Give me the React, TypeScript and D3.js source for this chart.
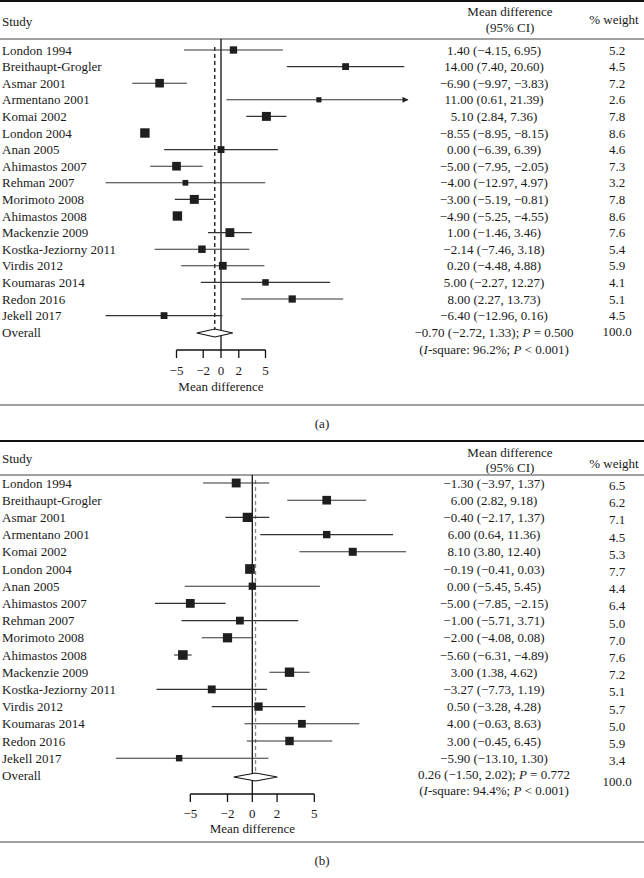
import React from 'react';
import * as d3 from 'd3';

const studies = [
  'London 1994', 'Breithaupt-Grogler', 'Asmar 2001', 'Armentano 2001', 'Komai 2002',
  'London 2004', 'Anan 2005', 'Ahimastos 2007', 'Rehman 2007', 'Morimoto 2008',
  'Ahimastos 2008', 'Mackenzie 2009', 'Kostka-Jeziorny 2011', 'Virdis 2012',
  'Koumaras 2014', 'Redon 2016', 'Jekell 2017',
];

// Panel (a)
const mdA = [1.40, 14.00, -6.90, 11.00, 5.10, -8.55, 0.00, -5.00, -4.00, -3.00, -4.90, 1.00, -2.14, 0.20, 5.00, 8.00, -6.40];
const loA = [-4.15, 7.40, -9.97, 0.61, 2.84, -8.95, -6.39, -7.95, -12.97, -5.19, -5.25, -1.46, -7.46, -4.48, -2.27, 2.27, -12.96];
const hiA = [6.95, 20.60, -3.83, 21.39, 7.36, -8.15, 6.39, -2.05, 4.97, -0.81, -4.55, 3.46, 3.18, 4.88, 12.27, 13.73, 0.16];
const wA = [5.2, 4.5, 7.2, 2.6, 7.8, 8.6, 4.6, 7.3, 3.2, 7.8, 8.6, 7.6, 5.4, 5.9, 4.1, 5.1, 4.5];
const overallA = [-0.70, -2.72, 1.33];
const statsA = ['0.500', '96.2%', '0.001'];

// Panel (b)
const mdB = [-1.30, 6.00, -0.40, 6.00, 8.10, -0.19, 0.00, -5.00, -1.00, -2.00, -5.60, 3.00, -3.27, 0.50, 4.00, 3.00, -5.90];
const loB = [-3.97, 2.82, -2.17, 0.64, 3.80, -0.41, -5.45, -7.85, -5.71, -4.08, -6.31, 1.38, -7.73, -3.28, -0.63, -0.45, -13.10];
const hiB = [1.37, 9.18, 1.37, 11.36, 12.40, 0.03, 5.45, -2.15, 3.71, 0.08, -4.89, 4.62, 1.19, 4.28, 8.63, 6.45, 1.30];
const wB = [6.5, 6.2, 7.1, 4.5, 5.3, 7.7, 4.4, 6.4, 5.0, 7.0, 7.6, 7.2, 5.1, 5.7, 5.0, 5.9, 3.4];
const overallB = [0.26, -1.50, 2.02];
const statsB = ['0.772', '94.4%', '0.001'];

const ticks = [-5, -2, 0, 2, 5];

const fmt = d3.format('.2f');
const fmtW = d3.format('.1f');
const FONT = "'Liberation Serif', 'Times New Roman', serif";

type Layout = {
  top: number; studyY: number; mdY: number; ciY: number; wY: number; headLine: number;
  row0: number; step: number; ovText: number; ovDiamond: number; ovLabel: number; ovW: number; isq: number;
  axisY: number; tickLab: number; axTitle: number; bottom: number; caption: number;
  x0: number; x1: number; clipLo: number; clipHi: number; wOff: number; boxMax: number;
  dashColor: string; caption_: string;
};

function Panel({ md, lo, hi, w, ov, stats, L }: { md: number[]; lo: number[]; hi: number[]; w: number[]; ov: number[]; stats: string[]; L: Layout }) {
  const x = d3.scaleLinear().domain([-5, 5]).range([L.x0, L.x1]);
  const y = (i: number) => L.row0 + i * L.step;
  const size = d3.scaleSqrt().domain([0, 8.6]).range([0, L.boxMax]);
  const dy = 4.5;
  const ciX = 494;
  const wX = 617;
  const diamond = `M${x(ov[1])},${L.ovDiamond} L${x(ov[0])},${L.ovDiamond - 4} L${x(ov[2])},${L.ovDiamond} L${x(ov[0])},${L.ovDiamond + 4} Z`;
  const arrowId = 'arr' + L.top;
  return (
    <g fontFamily={FONT} fontSize={13} fill="#1a1a1a">
      <defs>
        <marker id={arrowId} viewBox="0 0 10 10" refX="9" refY="5" markerWidth="7" markerHeight="6" orient="auto" markerUnits="userSpaceOnUse">
          <path d="M0,0 L10,5 L0,10 Z" fill="#222" />
        </marker>
      </defs>
      <line x1={0} x2={644} y1={L.top} y2={L.top} stroke="#111" strokeWidth={2} />
      <text x={2} y={L.studyY + dy}>Study</text>
      <text x={510} y={L.mdY + dy} textAnchor="middle">Mean difference</text>
      <text x={510} y={L.ciY + dy} textAnchor="middle">(95% CI)</text>
      <text x={614} y={L.wY + dy} textAnchor="middle">% weight</text>
      <line x1={0} x2={644} y1={L.headLine} y2={L.headLine} stroke="#808080" strokeWidth={1.3} />

      {/* zero line */}
      <line x1={x(0)} x2={x(0)} y1={L.headLine} y2={L.axisY} stroke="#111" strokeWidth={1.3} />
      {/* overall dashed line */}
      <line x1={x(ov[0])} x2={x(ov[0])} y1={L.row0 - 3} y2={L.ovDiamond - 4} stroke={L.dashColor} strokeWidth={1.3} strokeDasharray="4,3" />

      {studies.map((s, i) => {
        const l = Math.max(lo[i], L.clipLo);
        const h = Math.min(hi[i], L.clipHi);
        const arrow = hi[i] > L.clipHi;
        const sz = size(w[i]);
        return (
          <g key={s}>
            <text x={2} y={y(i) + dy}>{s}</text>
            <line x1={x(l)} x2={x(h)} y1={y(i)} y2={y(i)} stroke="#333" strokeWidth={1.1} markerEnd={arrow ? `url(#${arrowId})` : undefined} />
            <rect x={x(md[i]) - sz / 2} y={y(i) - sz / 2} width={sz} height={sz} fill="#1e1e1e" />
            <text x={ciX} y={y(i) + dy} textAnchor="middle">{`${fmt(md[i])} (${fmt(lo[i])}, ${fmt(hi[i])})`}</text>
            <text x={wX} y={y(i) + dy + L.wOff} textAnchor="middle">{fmtW(w[i])}</text>
          </g>
        );
      })}

      <text x={2} y={L.ovLabel + dy}>Overall</text>
      <path d={diamond} fill="#fff" stroke="#111" strokeWidth={1.1} />
      <text x={ciX} y={L.ovText + dy} textAnchor="middle">
        {`${fmt(ov[0])} (${fmt(ov[1])}, ${fmt(ov[2])}); `}
        <tspan fontStyle="italic">P</tspan>{` = ${stats[0]}`}
      </text>
      <text x={ciX} y={L.isq + dy} textAnchor="middle">
        {'('}<tspan fontStyle="italic">I</tspan>{`-square: ${stats[1]}; `}
        <tspan fontStyle="italic">P</tspan>{` < ${stats[2]})`}
      </text>
      <text x={wX} y={L.ovW + dy} textAnchor="middle">100.0</text>

      {/* axis */}
      <line x1={x(-5)} x2={x(5)} y1={L.axisY} y2={L.axisY} stroke="#111" strokeWidth={1.3} />
      {ticks.map((t) => (
        <g key={t}>
          <line x1={x(t)} x2={x(t)} y1={L.axisY} y2={L.axisY + 8} stroke="#111" strokeWidth={1.3} />
          <text x={x(t)} y={L.tickLab + dy} textAnchor="middle">{t < 0 ? '\u2212' + Math.abs(t) : String(t)}</text>
        </g>
      ))}
      <text x={x(0)} y={L.axTitle + dy} textAnchor="middle">Mean difference</text>
      <line x1={0} x2={644} y1={L.bottom} y2={L.bottom} stroke="#808080" strokeWidth={1.3} />
      <text x={322} y={L.caption + dy} textAnchor="middle">{L.caption_}</text>
    </g>
  );
}

const layoutA: Layout = {
  top: 1, studyY: 21, mdY: 11, ciY: 27, wY: 19, headLine: 39,
  row0: 50, step: 16.6, ovText: 332, ovDiamond: 333, ovLabel: 332, ovW: 331, isq: 349,
  axisY: 350, tickLab: 370, axTitle: 386, bottom: 405, caption: 423,
  x0: 176.5, x1: 265.5, clipLo: -13.5, clipHi: 21, wOff: 0, boxMax: 9.4,
  dashColor: '#111', caption_: '(a)',
};

const layoutB: Layout = {
  top: 441, studyY: 458, mdY: 452, ciY: 467, wY: 463, headLine: 475,
  row0: 483, step: 17.2, ovText: 774, ovDiamond: 777, ovLabel: 775, ovW: 781, isq: 790,
  axisY: 794, tickLab: 813, axTitle: 828, bottom: 842, caption: 860,
  x0: 190.3, x1: 314.3, clipLo: -11, clipHi: 13, wOff: 2.5, boxMax: 10.2,
  dashColor: '#888', caption_: '(b)',
};

export default function App() {
  return (
    <svg width={644} height={878} style={{ position: 'absolute', left: 0, top: 0, background: '#fff' }}>
      <rect x={0} y={0} width={644} height={878} fill="#fff" />
      <Panel md={mdA} lo={loA} hi={hiA} w={wA} ov={overallA} stats={statsA} L={layoutA} />
      <Panel md={mdB} lo={loB} hi={hiB} w={wB} ov={overallB} stats={statsB} L={layoutB} />
    </svg>
  );
}
